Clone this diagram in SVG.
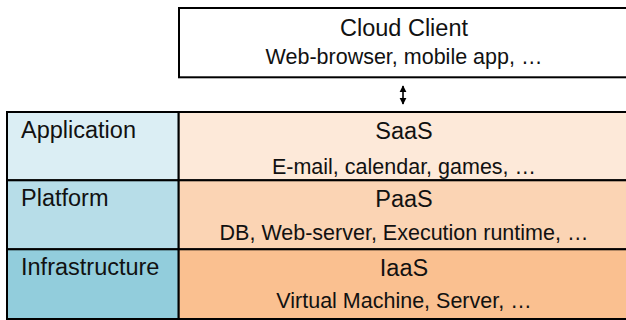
<svg xmlns="http://www.w3.org/2000/svg" width="626" height="320" viewBox="0 0 626 320">
  <style>
    text { font-family: "Liberation Sans", Arial, Helvetica, sans-serif; fill: #111; }
    .title { font-size: 23.5px; text-anchor: middle; }
    .sub { font-size: 21.5px; text-anchor: middle; }
    .layer { font-size: 23.5px; text-anchor: start; }
    .cell { stroke: #000; stroke-width: 2; }
    .conn { stroke: #000; stroke-width: 1.6; fill: none; }
  </style>
  <defs>
    <marker id="head" viewBox="0 0 10 10" refX="9" refY="5" markerWidth="4.5" markerHeight="4.5" orient="auto-start-reverse" markerUnits="strokeWidth">
      <path d="M0,0 L10,5 L0,10 Z" fill="#000"/>
    </marker>
  </defs>

  <rect width="626" height="320" fill="#fff"/>

  <!-- client tier -->
  <g id="cloud-client">
    <rect class="cell" x="179" y="8" width="452" height="69.3" fill="#fff"/>
    <text class="title" x="404" y="36">Cloud Client</text>
    <text class="sub" x="404" y="64">Web-browser, mobile app, …</text>
  </g>

  <!-- client <-> services link -->
  <g id="connectors">
    <path class="conn" d="M403,86 L403,104" marker-start="url(#head)" marker-end="url(#head)"/>
  </g>

  <!-- layer names -->
  <g id="application">
    <rect class="cell" x="7" y="112" width="171.7" height="68.3" fill="#dbeef4"/>
    <text class="layer" x="21" y="138">Application</text>
  </g>
  <g id="platform">
    <rect class="cell" x="7" y="180.3" width="171.7" height="69" fill="#b7dde8"/>
    <text class="layer" x="21" y="206">Platform</text>
  </g>
  <g id="infrastructure">
    <rect class="cell" x="7" y="249.3" width="171.7" height="69.7" fill="#92cddc"/>
    <text class="layer" x="21" y="275">Infrastructure</text>
  </g>

  <!-- service models -->
  <g id="saas">
    <rect class="cell" x="178.7" y="112" width="452" height="68.3" fill="#fde9d9"/>
    <text class="title" x="404" y="139">SaaS</text>
    <text class="sub" x="404" y="174">E-mail, calendar, games, …</text>
  </g>
  <g id="paas">
    <rect class="cell" x="178.7" y="180.3" width="452" height="69" fill="#fbd4b4"/>
    <text class="title" x="404" y="207">PaaS</text>
    <text class="sub" x="404" y="240">DB, Web-server, Execution runtime, …</text>
  </g>
  <g id="iaas">
    <rect class="cell" x="178.7" y="249.3" width="452" height="69.7" fill="#fac090"/>
    <text class="title" x="404" y="276">IaaS</text>
    <text class="sub" x="404" y="308">Virtual Machine, Server, …</text>
  </g>
</svg>
